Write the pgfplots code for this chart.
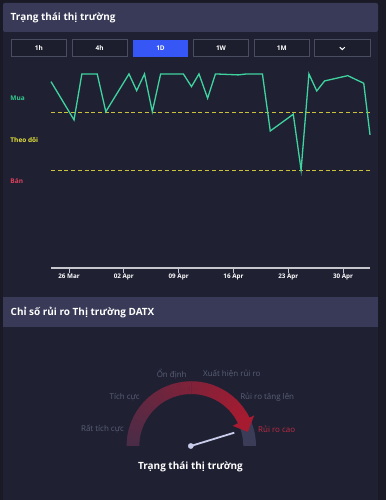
\documentclass[border=0pt]{standalone}
\usepackage{fontspec}
\setmainfont{Open Sans}
\usepackage{pgfplots}
\usepackage{pgfplotstable}
\pgfplotsset{compat=1.18}
\definecolor{bgout}{HTML}{191A26}
\definecolor{card}{HTML}{1F2133}
\definecolor{head}{HTML}{383A57}
\definecolor{btnfill}{HTML}{1C1E2D}
\definecolor{btnedge}{HTML}{4A4C60}
\definecolor{active}{HTML}{3656F5}
\definecolor{axisgrey}{HTML}{C6C7CE}
\definecolor{linegreen}{HTML}{3FD3A0}
\definecolor{dashy}{HTML}{CAC23A}
\definecolor{muag}{HTML}{2FCB8C}
\definecolor{theoy}{HTML}{E6E23C}
\definecolor{banr}{HTML}{E0405C}
\definecolor{glabel}{HTML}{5B5D74}
\definecolor{rred}{HTML}{C02A40}
\definecolor{gL}{HTML}{4A2C47}
\definecolor{gR}{HTML}{A61B30}
\definecolor{track}{HTML}{3A3C58}
\definecolor{needle}{HTML}{C9CCEA}

\pgfplotstableread{
x v
-2.3 92.0
0.64 52.1
1.64 100
2.64 100
3.6 100
4.7 60.7
7.66 100
8.64 82.6
9.64 100
10.64 60.7
11.7 100
14.6 100
15.64 86.8
16.6 100
17.7 74.7
18.7 100
21.6 99
22.7 100
23.7 100
24.7 100
25.7 40.6
28.64 58
29.64 0
30.64 100
31.64 82.3
32.64 92.7
35.6 98.2
36.6 94.3
37.64 90.3
38.44 36.5
}\signal

\begin{document}
\begin{tikzpicture}[x=1bp,y=1bp]
\useasboundingbox (0,0) rectangle (386,500);
\fill[bgout] (0,0) rectangle (386,500);
\fill[card] (3,0) rectangle (378,497);
\fill[head, rounded corners=2bp] (3,497) rectangle (378,468);
\fill[head] (3,203) rectangle (378,173);
\node[anchor=west, inner sep=0pt, text=white, font=\bfseries\fontsize{10}{12}\selectfont] at (10.5,481.7) {Trạng thái thị trường};
\node[anchor=west, inner sep=0pt, text=white, font=\bfseries\fontsize{10}{12}\selectfont] at (10.5,187.7) {Chỉ số rủi ro Thị trường DATX};

% buttons
\foreach \xa/\xb/\lab in {11/66.7/1h, 72/127.3/4h, 193.3/248.7/1W, 254.3/309.3/1M, 314.7/370/{}}{
  \filldraw[fill=btnfill, draw=btnedge, line width=1bp] (\xa,443) rectangle (\xb,460);
  \node[text=white, inner sep=0pt, font=\bfseries\fontsize{6.5}{7}\selectfont] at ({(\xa+\xb)/2},451.5) {\lab};
}
\fill[active] (133,443) rectangle (188,460);
\node[text=white, inner sep=0pt, font=\bfseries\fontsize{6.5}{7}\selectfont] at (160.5,451.5) {1D};
\draw[white, line width=1bp] (339.8,452.8) -- (342.3,450.4) -- (344.8,452.8);

% y labels
\node[anchor=west, inner sep=0pt, text=muag, font=\bfseries\fontsize{6.5}{7}\selectfont] at (10.3,401.3) {Mua};
\node[anchor=west, inner sep=0pt, text=theoy, font=\bfseries\fontsize{6.5}{7}\selectfont] at (10.3,359.7) {Theo dõi};
\node[anchor=west, inner sep=0pt, text=banr, font=\bfseries\fontsize{6.5}{7}\selectfont] at (10.3,318.6) {Bán};

\begin{axis}[
 at={(51bp,232bp)}, anchor=south west,
 scale only axis, width=319bp, height=197.9bp,
 xmin=-2.3, xmax=38.44, ymin=-102.1, ymax=104,
 axis x line=bottom, axis y line=none,
 x axis line style={draw=axisgrey, line width=1.6bp, -},
 xtick={0,7,14,21,28,35},
 xticklabels={26 Mar,02 Apr,09 Apr,16 Apr,23 Apr,30 Apr},
 ytick=\empty,
 tick align=outside, major tick length=5.5bp,
 xtick style={draw=axisgrey, line width=1bp},
 xticklabel style={text=white, font=\bfseries\fontsize{6.3}{7}\selectfont, inner sep=0pt},
 clip=false,
]
\addplot[draw=dashy, line width=1bp, dash pattern=on 4bp off 2.7bp] coordinates {(-2.3,59.9) (38.44,59.9)};
\addplot[draw=dashy, line width=1bp, dash pattern=on 4bp off 2.7bp] coordinates {(-2.3,-0.5) (38.44,-0.5)};
\addplot[draw=linegreen, line width=1.3bp, line join=miter] table[x=x,y=v] {\signal};
\end{axis}

% gauge
\begin{scope}[shift={(191.3,54)}]
\fill[track] (0:52bp) arc[start angle=0,end angle=30,radius=52bp] -- (30:64.7bp) arc[start angle=30,end angle=0,radius=64.7bp] -- cycle;
\foreach \a in {180,178,...,28}{
  \pgfmathsetmacro\p{(180-\a)/152*100}
  \pgfmathsetmacro\b{\a-2.4}
  \fill[gR!\p!gL] (\a:52bp) arc[start angle=\a,end angle=\b,radius=52bp] -- (\b:64.7bp) arc[start angle=\b,end angle=\a,radius=64.7bp] -- cycle;
}
\fill[gR] (26:46bp) -- (26:70bp) -- (14:58.3bp) -- cycle;
\end{scope}

\begin{scope}[every node/.style={inner sep=0pt, text=glabel, font=\fontsize{8}{9}\selectfont}]
\node at (102.5,70.7) {Rất tích cực};
\node at (124.7,102.7) {Tích cực};
\node at (171.7,126) {Ổn định};
\node at (231.8,126) {Xuất hiện rủi ro};
\node at (267.2,102.7) {Rủi ro tăng lên};
\node[text=rred] at (276.7,70.7) {Rủi ro cao};
\end{scope}
\node[inner sep=0pt, text=white, font=\bfseries\fontsize{10}{12}\selectfont] at (190.5,33.3) {Trạng thái thị trường};

\begin{axis}[at={(126.6bp,54bp)}, anchor=south west, scale only axis, width=129.4bp, height=64.7bp,
 xmin=-64.7, xmax=64.7, ymin=0, ymax=64.7, hide axis, clip=false]
\addplot[draw=needle, line width=1.8bp] coordinates {(-0.5,0) (43,13.3)};
\addplot[only marks, mark=*, mark size=2.6bp, mark options={fill=needle, draw=needle}] coordinates {(-0.5,0)};
\end{axis}
\end{tikzpicture}
\end{document}
